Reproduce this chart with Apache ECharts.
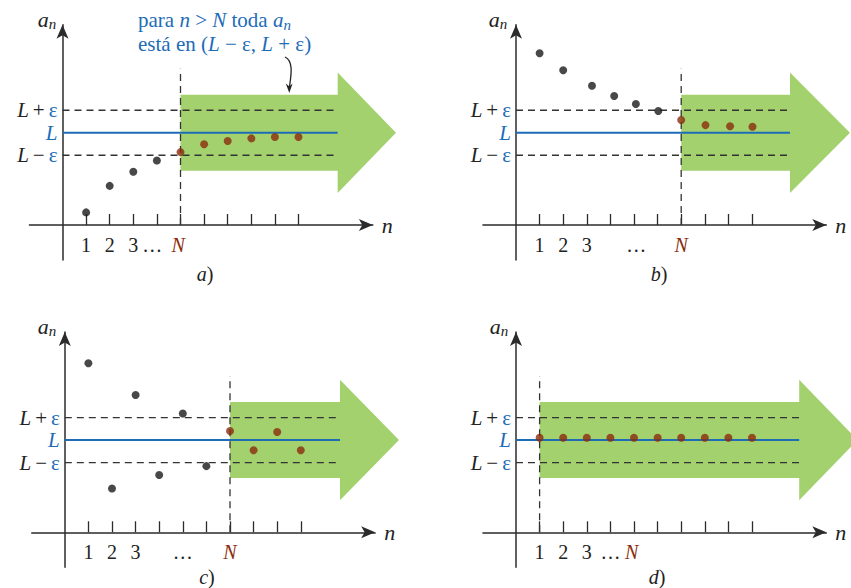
<!DOCTYPE html>
<html><head><meta charset="utf-8">
<script src="https://cdn.jsdelivr.net/npm/echarts@6/dist/echarts.min.js"></script>
<style>html,body{margin:0;padding:0;background:#fff}#c{width:851px;height:588px}</style>
</head><body><div id="c"></div>
<script>
// ---- data ----
const L = 4.1, EPS = 1;
const nA = [1,2,3,4,5,6,7,8,9,10];
const valA = [0.56,1.74,2.37,2.87,3.24,3.59,3.73,3.85,3.91,3.91];
const nB = [1,2,3.22,4.16,5.08,6.03,7,8.03,9.07,10.02];
const valB = [7.63,6.88,6.19,5.73,5.38,5.07,4.67,4.44,4.39,4.37];
const nC = [1,2,3,4,5,6,7,8,9,10];
const valC = [7.51,1.95,6.10,2.55,5.28,2.94,4.50,3.65,4.46,3.65];
const nD = [1,2,3,4,5,6,7,8,9,10];
const valD = [4.2,4.2,4.2,4.2,4.2,4.2,4.2,4.2,4.2,4.2];
const boundA = 5, boundB = 7, boundC = 7, boundD = 1;   // n from which all a_n lie in band
const ticks = [1,2,3,4,5,6,7,8,9,10];
const tickTxt = ['1','2','3','…','N'];
const tickPosA = [1,2,3,3.8,4.9];
const tickPosB = [1,2,3,5.1,7.0];
const tickPosC = [1,2,3,5.0,7.0];
const tickPosD = [1,2,3,4.0,4.9];
const arrowA = [5, 11.66, 14.13];   // start, body end, tip (in n units)
const arrowB = [7, 11.61, 14.15];
const arrowC = [7, 11.66, 14.16];
const arrowD = [1, 12.0, 14.47];
const bodyHalf = 1.69, headHalf = 2.68, vTop = 6.95;

// ---- style / layout ----
const FONT = 'Liberation Serif, DejaVu Serif, serif';
const AX = '#2b2b2b', BLUE = '#1d6cb6', GREEN = '#a3d16e', BROWN = '#8a2c0c', BLACK = '#1a1a1a';
const XMIN = -1.4, XMAX = 13.15, YMIN = -1.55, YMAX = 8.9, SX = 23.6, SY = 22.5;
const origins = [[62.5,225],[516,225],[64.8,532.3],[516,532.3]];

const grids = [], xAxes = [], yAxes = [], series = [];
const panels = [
  {n:nA, v:valA, b:boundA, lab:tickPosA, arrow:arrowA},
  {n:nB, v:valB, b:boundB, lab:tickPosB, arrow:arrowB},
  {n:nC, v:valC, b:boundC, lab:tickPosC, arrow:arrowC},
  {n:nD, v:valD, b:boundD, lab:tickPosD, arrow:arrowD}
];
panels.forEach((p, i) => {
  const [ox, oy] = origins[i];
  grids.push({left: ox + XMIN*SX, top: oy - YMAX*SY, width: (XMAX-XMIN)*SX, height: (YMAX-YMIN)*SY, outerBoundsMode: 'none', containLabel: false});
  xAxes.push({
    gridIndex: i, type: 'value', min: XMIN, max: XMAX,
    splitLine: {show: false},
    axisLine: {onZero: true, symbol: ['none','arrow'], symbolSize: [9,14], lineStyle: {color: AX, width: 1.5}},
    axisTick: {show: true, customValues: ticks, inside: true, length: 11, lineStyle: {color: AX, width: 1.3}},
    axisLabel: {
      customValues: p.lab, margin: 10 + YMIN*SY,
      formatter: (v) => { const k = p.lab.findIndex(x => Math.abs(x - v) < 1e-6); const t = tickTxt[k]; return t === 'N' ? '{N|N}' : '{k|' + t + '}'; },
      rich: {k: {fontFamily: FONT, fontSize: 20, color: '#222'}, N: {fontFamily: FONT, fontSize: 20, fontStyle: 'italic', color: BROWN}}
    },
    name: 'n', nameLocation: 'end', nameGap: 9,
    nameTextStyle: {fontFamily: FONT, fontSize: 22, fontStyle: 'italic', color: '#222', verticalAlign: 'middle'}
  });
  yAxes.push({
    gridIndex: i, type: 'value', min: YMIN, max: YMAX,
    splitLine: {show: false},
    axisLine: {onZero: true, symbol: ['none','arrow'], symbolSize: [9,14], lineStyle: {color: AX, width: 1.5}},
    axisTick: {show: false},
    axisLabel: {
      customValues: [L-EPS, L, L+EPS], margin: 5 + XMIN*SX,
      formatter: (v) => v > L + 0.5 ? '{k|L}{o|+}{e|ε}' : (v < L - 0.5 ? '{k|L}{o|−}{e|ε}' : '{b|L}'),
      rich: {
        k: {fontFamily: FONT, fontSize: 21, fontStyle: 'italic', color: '#222'},
        o: {fontFamily: FONT, fontSize: 21, color: '#222', padding: [0,4,0,4]},
        e: {fontFamily: FONT, fontSize: 21, color: BLUE},
        b: {fontFamily: FONT, fontSize: 21, fontStyle: 'italic', color: BLUE}
      }
    }
  });
  const ax = {xAxisIndex: i, yAxisIndex: i};
  series.push({
    ...ax, type: 'custom', z: 1, silent: true, clip: false, data: [p.arrow],
    renderItem: (params, api) => {
      const s = api.value(0), e = api.value(1), t = api.value(2);
      const c = (x, y) => api.coord([x, y]);
      return {type: 'polygon', shape: {points: [c(s,L+bodyHalf), c(e,L+bodyHalf), c(e,L+headHalf), c(t,L), c(e,L-headHalf), c(e,L-bodyHalf), c(s,L-bodyHalf)]}, style: {fill: GREEN}};
    }
  });
  const dash = {color: '#333', width: 1.3, type: [7,5]};
  series.push({...ax, type: 'line', z: 2, silent: true, showSymbol: false, data: [[0, L+EPS],[p.arrow[1], L+EPS]], lineStyle: dash});
  series.push({...ax, type: 'line', z: 2, silent: true, showSymbol: false, data: [[0, L-EPS],[p.arrow[1], L-EPS]], lineStyle: dash});
  series.push({...ax, type: 'line', z: 2, silent: true, showSymbol: false, data: [[p.b, 0],[p.b, vTop]], lineStyle: dash});
  series.push({...ax, type: 'line', z: 2, silent: true, showSymbol: false, data: [[0, L],[p.arrow[1], L]], lineStyle: {color: BLUE, width: 2}});
  const blk = [], brn = [];
  p.n.forEach((n, k) => (Math.round(n) < p.b ? blk : brn).push([n, p.v[k]]));
  series.push({...ax, type: 'scatter', z: 3, silent: true, symbolSize: 8, data: blk, itemStyle: {color: BLACK}});
  series.push({...ax, type: 'scatter', z: 3, silent: true, symbolSize: 8, data: brn, itemStyle: {color: BROWN}});
});

const anRich = {a: {fontFamily: FONT, fontSize: 22, fontStyle: 'italic', fill: '#222', lineHeight: 20, padding: [0,0,4,0]},
                s: {fontFamily: FONT, fontSize: 15, fontStyle: 'italic', fill: '#222', lineHeight: 13, verticalAlign: 'bottom'}};
function anLabel(x, y) {
  return {type: 'text', x: x, y: y, style: {text: '{a|a}{s|n}', rich: anRich, align: 'center', verticalAlign: 'middle'}};
}
function panelLabel(x, y, letter) {
  return {type: 'text', x: x, y: y, style: {text: '{i|' + letter + '}{t|)}', align: 'center', verticalAlign: 'middle',
    rich: {i: {fontFamily: FONT, fontSize: 20, fontStyle: 'italic', fill: '#222'}, t: {fontFamily: FONT, fontSize: 20, fill: '#222'}}}};
}
const annRich = {
  t: {fontFamily: FONT, fontSize: 21, fill: BLUE, lineHeight: 20, padding: [0,0,4,0]},
  i: {fontFamily: FONT, fontSize: 21, fontStyle: 'italic', fill: BLUE, lineHeight: 20, padding: [0,0,4,0]},
  s: {fontFamily: FONT, fontSize: 15, fontStyle: 'italic', fill: BLUE, lineHeight: 13, verticalAlign: 'bottom'}
};

const chart = echarts.init(document.getElementById('c'), null, {renderer: 'svg'});
chart.setOption({
  animation: false,
  backgroundColor: '#fff',
  grid: grids, xAxis: xAxes, yAxis: yAxes, series: series,
  graphic: [
    anLabel(47, 21), anLabel(498, 21), anLabel(47, 328), anLabel(499, 328),
    panelLabel(205, 274, 'a'), panelLabel(659, 274, 'b'), panelLabel(207, 577, 'c'), panelLabel(657, 577, 'd'),
    {type: 'text', x: 138, y: 22, style: {text: '{t|para }{i|n}{t| > }{i|N}{t| toda }{i|a}{s|n}', rich: annRich, fill: BLUE, verticalAlign: 'middle'}},
    {type: 'text', x: 138, y: 46, style: {text: '{t|está en (}{i|L}{t| − ε, }{i|L}{t| + ε)}', rich: annRich, fill: BLUE, verticalAlign: 'middle'}},
    {type: 'bezierCurve', shape: {x1: 285, y1: 57, cpx1: 294, cpy1: 61, cpx2: 291, cpy2: 76, x2: 289.3, y2: 88}, style: {stroke: '#222', lineWidth: 1.3, fill: null}},
    {type: 'polygon', shape: {points: [[285.8, 83.5], [289.3, 93], [292.6, 83.5], [289.3, 86.5]]}, style: {fill: '#222'}}
  ]
});
</script></body></html>
